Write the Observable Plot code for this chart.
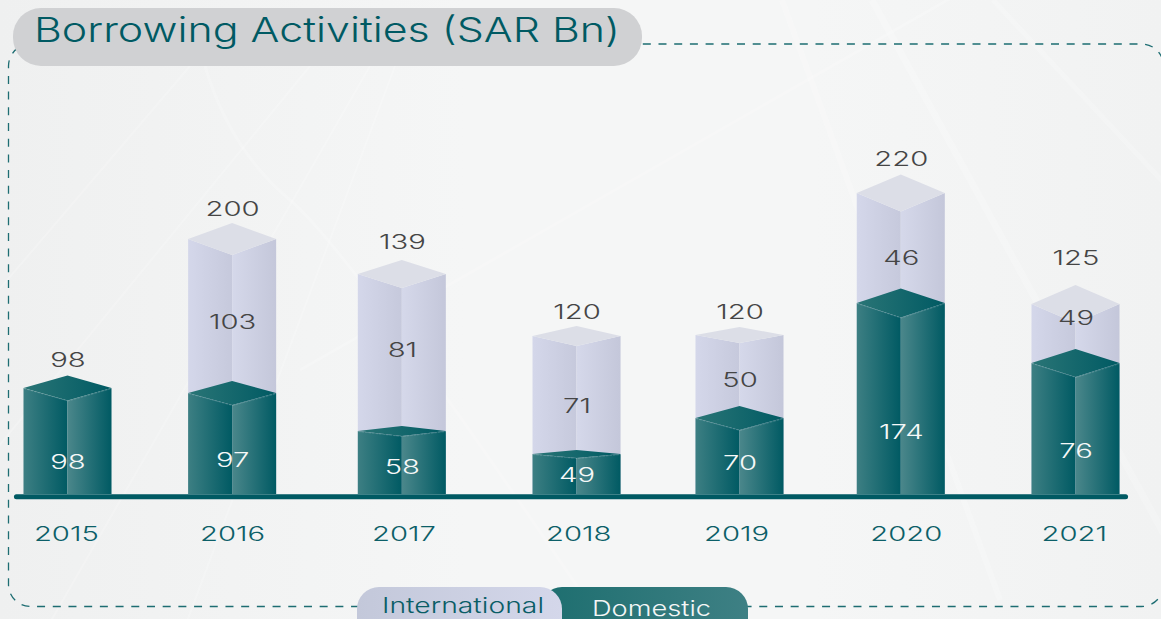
<!DOCTYPE html>
<html lang="en">
<head>
<meta charset="utf-8">
<title>Borrowing Activities (SAR Bn)</title>
<script src="https://cdn.jsdelivr.net/npm/d3@7"></script>
<script src="https://cdn.jsdelivr.net/npm/@observablehq/plot@0.6"></script>
<style>
  html, body { margin: 0; width: 1161px; height: 619px; overflow: hidden; }
  body {
    position: relative;
    font-family: Inter, sans-serif;
    background-color: #f4f5f5;
    background-image:
      url("data:image/svg+xml,%3Csvg xmlns='http://www.w3.org/2000/svg' width='1161' height='619'%3E%3Cg stroke='%23fff' fill='none' stroke-opacity='.2'%3E%3Cpath stroke-width='6' d='M782 0L1000 600'/%3E%3Cpath stroke-width='7' d='M872 0L1200 600'/%3E%3Cpath stroke-width='5' d='M993 0L1400 435'/%3E%3Cpath stroke-width='2' d='M190 66L-300 640M310 66L-160 640M370 66L40 640M395 66L180 640'/%3E%3Cpath stroke-width='3' d='M205 66Q230 150 290 200T600 620'/%3E%3Cpath stroke-width='3' d='M1000 -30L300 370'/%3E%3C/g%3E%3C/svg%3E"),
      linear-gradient(90deg, #eff0f0 0%, #f5f6f6 40%, #f5f6f6 70%, #f1f2f2 100%);
  }
  svg { position: absolute; left: 0; top: 0; background: transparent; }
  .pill { position: absolute; white-space: nowrap; overflow: hidden; font-weight: 300; }
  .pill span { position: absolute; display: block; transform-origin: left center; }
  #titlePill { left: 13px; top: 8px; width: 629px; height: 58px; border-radius: 28px; background: #d0d1d3; }
  #titlePill span { left: 21px; top: 1px; font-size: 34px; line-height: 42px; color: #005a63; }
  #domPill { left: 540px; top: 587px; width: 208px; height: 60px; border-radius: 22px;
             background: linear-gradient(90deg, #1d6e6f, #3e8084); }
  #domPill span { left: 52px; top: 7px; font-size: 22px; line-height: 28px; color: #f4f6f6; }
  #intlPill { left: 357px; top: 587px; width: 205px; height: 60px; border-radius: 22px;
              background: linear-gradient(90deg, #c3c8da, #d4d7ea); }
  #intlPill span { left: 25px; top: 4px; font-size: 22px; line-height: 28px; color: #0a5d66; }
</style>
</head>
<body>
<script>
// Values as labelled in the picture (SAR Bn).
const years = [2015, 2016, 2017, 2018, 2019, 2020, 2021];
const domestic = [98, 97, 58, 49, 70, 174, 76];
const international = [null, 103, 81, 71, 50, 46, 49];
const totals = [98, 200, 139, 120, 120, 220, 125];

// The source graphic is not to scale, so its drawn geometry is read off separately.
const barSlots = [2015, 2015.98, 2016.99, 2018.03, 2019.0, 2019.96, 2021];
const yearLabelSlots = [2014.99, 2015.98, 2017.0, 2018.04, 2018.98, 2019.99, 2020.99];
const domesticDrawn = [106, 101, 63, 40, 76, 191, 131];
const domesticRise = [12.5, 12, 5, 4, 12, 14.5, 14];
const totalDrawn = [null, 255, 220, 158, 159, 301, 190];
const totalRise = [null, 16, 14, 10, 8, 18.5, 19];
const totalLabelAt = [135, 286, 253, 183, 183, 336, 237];
const domesticLabelAt = [33, 35, 28, 20, 32, 63, 44];
const internationalLabelAt = [null, 173, 145, 89, 115, 237, 177];

const halfBar = 0.262;
const teal = "#005a63";

function leftFaces(tops, rises) {
  return barSlots.flatMap((c, i) => tops[i] == null ? [] : [
    {z: i, x: c - halfBar, y1: 0, y2: tops[i]},
    {z: i, x: c, y1: 0, y2: tops[i] - rises[i]}
  ]);
}
function rightFaces(tops, rises) {
  return barSlots.flatMap((c, i) => tops[i] == null ? [] : [
    {z: i, x: c, y1: 0, y2: tops[i] - rises[i]},
    {z: i, x: c + halfBar, y1: 0, y2: tops[i]}
  ]);
}
function capFaces(tops, rises) {
  return barSlots.flatMap((c, i) => tops[i] == null ? [] : [
    {z: i, x: c - halfBar, y1: tops[i], y2: tops[i]},
    {z: i, x: c, y1: tops[i] - rises[i], y2: tops[i] + rises[i]},
    {z: i, x: c + halfBar, y1: tops[i], y2: tops[i]}
  ]);
}
function rims(tops, rises) {
  return barSlots.flatMap((c, i) => tops[i] == null ? [] : [
    {z: i, x: c - halfBar, y: tops[i]},
    {z: i, x: c, y: tops[i] - rises[i]},
    {z: i, x: c + halfBar, y: tops[i]}
  ]);
}
function area(rows, fill) {
  return Plot.area(rows, {x1: "x", y1: "y1", y2: "y2", z: "z", fill, stroke: "none", curve: "linear"});
}
function labels(values, at, fill, slots = barSlots) {
  const rows = slots.map((c, i) => ({x: c, y: at[i], text: values[i]})).filter((d) => d.text != null);
  return Plot.text(rows, {x: "x", y: "y", text: (d) => String(d.text), fill, fontSize: 19.5, fontWeight: 300, dy: 1, lineAnchor: "middle", textAnchor: "middle"});
}

const chart = Plot.plot({
  width: 1161,
  height: 619,
  marginLeft: 8,
  marginTop: 43.5,
  marginRight: -2,
  marginBottom: 13,
  style: {background: "transparent", fontFamily: "Inter, sans-serif"},
  x: {domain: [2015, 2021], range: [67.5, 1075.5], axis: null},
  y: {domain: [0, 494], range: [494, 0], axis: null},
  marks: [
    Plot.frame({stroke: "#1d6d72", strokeWidth: 1.3, strokeDasharray: "8,7.7", rx: 22, ry: 22}),
    area(leftFaces(totalDrawn, totalRise), "url(#intlLeft)"),
    area(rightFaces(totalDrawn, totalRise), "url(#intlRight)"),
    area(capFaces(totalDrawn, totalRise), "#dcdee7"),
    area(leftFaces(domesticDrawn, domesticRise), "url(#domLeft)"),
    area(rightFaces(domesticDrawn, domesticRise), "url(#domRight)"),
    area(capFaces(domesticDrawn, domesticRise), "url(#domCap)"),
    Plot.line(rims(domesticDrawn, domesticRise), {x: "x", y: "y", z: "z", stroke: "#ffffff", strokeOpacity: 0.25, strokeWidth: 0.7, strokeDasharray: "2,1.5", curve: "linear"}),
    Plot.ruleY([{y: -2.3, x1: 2014.696, x2: 2021.298}], {y: "y", x1: "x1", x2: "x2", stroke: teal, strokeWidth: 5, strokeLinecap: "round"}),
    labels(totals, totalLabelAt, "#454545"),
    labels(international, internationalLabelAt, "#454545"),
    labels(domestic, domesticLabelAt, "#f6f8f8"),
    labels(years, years.map(() => -39), "#0c5f68", yearLabelSlots)
  ]
});

// Gradients used by the bar faces.
const grad = (id, a, b) => `<linearGradient id="${id}" x1="0" x2="1" y1="0" y2="0"><stop offset="0" stop-color="${a}"/><stop offset="1" stop-color="${b}"/></linearGradient>`;
d3.select(chart).insert("defs", ":first-child").html(
  grad("intlLeft", "#d4d7ea", "#c6c9dc") +
  grad("intlRight", "#d5d8ea", "#c4c7da") +
  grad("domLeft", "#3d7f83", "#005a63") +
  grad("domRight", "#4b878b", "#005a63") +
  grad("domCap", "#2a7576", "#005a63")
);

// The source type is a very wide face: stretch every label around its anchor.
chart.querySelectorAll("text").forEach((t) => {
  t.setAttribute("transform", (t.getAttribute("transform") || "") + " scale(1.5,1)");
});

document.body.appendChild(chart);

// Title and legend sit on the frame as HTML text.
function pill(id, text, targetWidth) {
  const div = document.createElement("div");
  div.className = "pill";
  div.id = id;
  const span = document.createElement("span");
  span.textContent = text;
  div.appendChild(span);
  document.body.appendChild(div);
  span.style.transform = `scaleX(${targetWidth / span.getBoundingClientRect().width})`;
}
pill("titlePill", "Borrowing Activities (SAR Bn)", 586);
pill("domPill", "Domestic", 119);
pill("intlPill", "International", 162);
</script>
</body>
</html>
